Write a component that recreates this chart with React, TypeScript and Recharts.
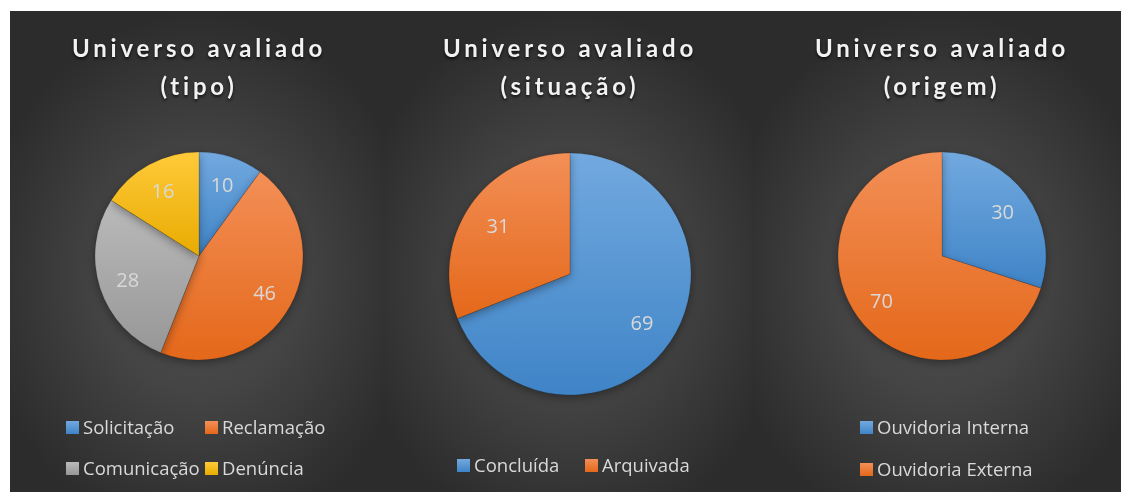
import { PieChart, Pie, Cell, Legend } from 'recharts';

const tipoNames = ['Solicitação', 'Reclamação', 'Comunicação', 'Denúncia'];
const tipoValues = [10, 46, 28, 16];
const tipoColors = ['blue', 'orange', 'gray', 'yellow'];

const situacaoNames = ['Concluída', 'Arquivada'];
const situacaoValues = [69, 31];
const situacaoColors = ['blue', 'orange'];

const origemNames = ['Ouvidoria Interna', 'Ouvidoria Externa'];
const origemValues = [30, 70];
const origemColors = ['blue', 'orange'];

const gradients: Record<string, [string, string]> = {
  blue: ['#72a9df', '#3f84c7'],
  orange: ['#f38f57', '#e4681a'],
  gray: ['#bababa', '#979797'],
  yellow: ['#ffca3a', '#e8ab00'],
};

const RAD = Math.PI / 180;
const TITLE_FONT = 'Lato, "Open Sans", sans-serif';
const FONT = '"Open Sans", Lato, sans-serif';

const renderLabel = (p: any) => {
  const r = p.outerRadius * 0.72;
  const x = p.cx + r * Math.cos(-p.midAngle * RAD);
  const y = p.cy + r * Math.sin(-p.midAngle * RAD);
  return (
    <text
      x={x}
      y={y}
      fill="#d9d9d9"
      fontSize={20}
      fontFamily={FONT}
      textAnchor="middle"
      dominantBaseline="central"
    >
      {p.value}
    </text>
  );
};

type PanelProps = {
  title: string;
  names: string[];
  values: number[];
  colors: string[];
  width: number;
  cx: number;
  cy: number;
  radius: number;
  legendLeft: number;
  legendTop: number;
  legendWidth: number;
  itemWidth: number;
  rowHeight: number;
};

function Panel(props: PanelProps) {
  const data = props.names.map((name, i) => ({ name, value: props.values[i] }));
  const height = 481;
  return (
    <div
      style={{
        position: 'relative',
        width: props.width,
        height,
        flexShrink: 0,
        background:
          'radial-gradient(ellipse 60% 55% at 51% 55%, #535353 0%, #444444 45%, #2c2c2c 100%)',
      }}
    >
      <div
        style={{
          position: 'absolute',
          left: 0,
          top: 18,
          width: props.cx * 2,
          textAlign: 'center',
          color: '#f2f2f2',
          fontFamily: TITLE_FONT,
          fontWeight: 700,
          fontSize: 24,
          letterSpacing: 3.8,
          lineHeight: '38px',
          textShadow: '0 2px 3px rgba(0,0,0,0.7)',
        }}
      >
        Universo avaliado
        <br />
        {props.title}
      </div>
      <div style={{ position: 'absolute', left: 0, top: 0 }}>
        <PieChart
          width={props.width}
          height={height}
          margin={{ top: 0, right: 0, bottom: 0, left: 0 }}
        >
          <Pie
            data={data}
            dataKey="value"
            nameKey="name"
            cx={props.cx}
            cy={props.cy}
            outerRadius={props.radius}
            startAngle={90}
            endAngle={-270}
            stroke="rgba(0,0,0,0.25)"
            strokeWidth={0.6}
            label={renderLabel}
            labelLine={false}
            isAnimationActive={false}
          >
            {data.map((d, i) => (
              <Cell key={d.name} fill={`url(#grad-${props.colors[i]})`} />
            ))}
          </Pie>
          <Legend
            wrapperStyle={{
              position: 'absolute',
              left: props.legendLeft,
              top: props.legendTop,
              width: props.legendWidth,
              bottom: 'auto',
            }}
            content={() => (
              <div style={{ display: 'flex', flexWrap: 'wrap' }}>
                {data.map((d, i) => (
                  <div
                    key={d.name}
                    style={{
                      width: props.itemWidth,
                      height: props.rowHeight,
                      display: 'flex',
                      alignItems: 'flex-start',
                      fontFamily: FONT,
                      fontSize: 18.5,
                      color: '#d9d9d9',
                      whiteSpace: 'nowrap',
                    }}
                  >
                    <svg width={13} height={13} style={{ marginTop: 6, marginRight: 4 }}>
                      <rect width={13} height={13} fill={`url(#grad-${props.colors[i]})`} />
                    </svg>
                    <span style={{ lineHeight: '24px' }}>{d.name}</span>
                  </div>
                ))}
              </div>
            )}
          />
        </PieChart>
      </div>
    </div>
  );
}

export default function App() {
  return (
    <div style={{ position: 'fixed', left: 10, top: 11, right: 0, bottom: 0, display: 'flex' }}>
      <style>{`
        html, body { margin: 0; overflow: hidden; }
        html {
          background:
            linear-gradient(#ffffff 0 11px, transparent 11px),
            linear-gradient(90deg, #ffffff 0 1090px, #2c2c2c 1090px);
        }
        .recharts-pie-sector { filter: drop-shadow(0 3px 4px rgba(0,0,0,0.35)); }
      `}</style>
      <svg width={0} height={0} style={{ position: 'absolute' }}>
        <defs>
          {Object.entries(gradients).map(([k, [a, b]]) => (
            <linearGradient key={k} id={`grad-${k}`} x1="0" y1="0" x2="0" y2="1">
              <stop offset="0%" stopColor={a} />
              <stop offset="100%" stopColor={b} />
            </linearGradient>
          ))}
        </defs>
      </svg>
      <Panel
        title="(tipo)"
        names={tipoNames}
        values={tipoValues}
        colors={tipoColors}
        width={371}
        cx={189}
        cy={245}
        radius={104}
        legendLeft={56}
        legendTop={404}
        legendWidth={290}
        itemWidth={139}
        rowHeight={41}
      />
      <Panel
        title="(situação)"
        names={situacaoNames}
        values={situacaoValues}
        colors={situacaoColors}
        width={371}
        cx={189}
        cy={263}
        radius={121}
        legendLeft={76}
        legendTop={442}
        legendWidth={290}
        itemWidth={128}
        rowHeight={30}
      />
      <Panel
        title="(origem)"
        names={origemNames}
        values={origemValues}
        colors={origemColors}
        width={369}
        cx={190}
        cy={245}
        radius={104}
        legendLeft={108}
        legendTop={404}
        legendWidth={250}
        itemWidth={250}
        rowHeight={42}
      />
    </div>
  );
}
